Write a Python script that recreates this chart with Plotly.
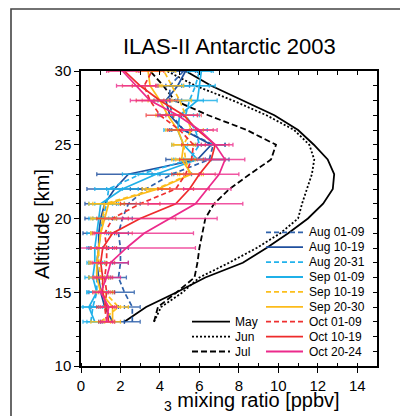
import plotly.graph_objects as go

# ---------------- data ----------------
altitude = list(range(13, 31))  # km

clim_names = ["May", "Jun", "Jul"]
may = [2.2, 3.3, 4.85, 6.3, 8.2, 9.4, 10.5, 11.5, 12.27, 12.76, 12.83, 12.5, 11.8, 11.0, 9.8, 8.2, 6.6, 5.3]
jun = [3.7, 4.06, 5.15, 6.0, 7.5, 8.9, 10.1, 11.0, 11.2, 11.45, 11.7, 11.82, 11.57, 10.8, 9.4, 7.7, 5.8, 4.35]
jul = [3.7, 3.9, 4.85, 5.75, 5.9, 6.0, 6.15, 6.3, 6.74, 7.52, 8.55, 9.63, 9.88, 8.4, 6.45, 4.75, 4.17, 3.5]

period_names = ["Aug 01-09", "Aug 10-19", "Aug 20-31", "Sep 01-09", "Sep 10-19",
                "Sep 20-30", "Oct 01-09", "Oct 10-19", "Oct 20-24"]
aug_01_09 = [2.6, 2.6, 2.2, 1.9, 2.0, 2.0, 1.9, 2.1, 2.4, 3.3, 4.6, 6.5, 6.7, 5.2, 4.6, 4.5, 4.5, 5.2]
aug_10_19 = [1.6, 1.2, 1.0, 0.9, 0.8, 0.9, 0.9, 1.0, 1.2, 1.7, 2.4, 5.9, 6.6, 5.2, 4.5, 4.3, 4.9, 5.3]
aug_20_31 = [0.5, 0.6, 0.8, 0.8, 0.8, 0.9, 1.0, 1.1, 1.3, 1.4, 3.0, 5.5, 6.0, 5.8, 5.3, 5.5, 5.8, 6.0]
sep_01_09 = [0.7, 0.4, 0.8, 0.6, 0.7, 0.7, 0.8, 0.9, 1.0, 2.1, 3.8, 5.9, 5.2, 4.9, 5.0, 5.9, 6.0, 6.1]
sep_10_19 = [1.0, 1.9, 1.2, 1.0, 0.9, 0.9, 1.0, 1.1, 1.2, 3.8, 5.5, 5.3, 5.2, 5.6, 5.3, 5.0, 4.6, 4.2]
sep_20_30 = [1.6, 1.6, 1.0, 0.8, 0.8, 0.9, 1.0, 1.2, 1.4, 3.9, 5.6, 5.1, 5.2, 4.9, 4.4, 4.0, 3.5, 3.4]
oct_01_09 = [1.3, 1.2, 1.3, 1.2, 1.3, 1.3, 1.2, 1.6, 3.0, 4.8, 5.3, 5.6, 5.7, 5.0, 4.0, 3.5, 3.2, 3.6]
oct_10_19 = [1.4, 1.3, 1.1, 1.1, 1.0, 1.1, 1.6, 3.0, 4.8, 5.5, 6.0, 6.6, 6.8, 5.9, 5.2, 4.0, 3.0, 2.2]
oct_20_24 = [1.3, 1.4, 1.0, 1.3, 1.5, 2.3, 3.2, 4.5, 5.8, 6.4, 7.0, 7.3, 6.8, 6.0, 4.9, 3.5, 2.8, 2.1]

err_aug_01_09 = [0.4, 0.4, 0.5, 0.4, 0.4, 0.4, 0.5, 0.5, 0.6, 0.8, 1.0, 0.8, 0.6, 0.6, 0.6, 0.6, 0.6, 0.6]
err_aug_10_19 = [0.6, 0.7, 0.6, 0.5, 0.4, 0.5, 0.8, 0.8, 1.0, 1.4, 1.6, 1.6, 0.7, 0.7, 0.6, 0.6, 0.6, 0.6]
err_aug_20_31 = [0.4, 0.5, 0.5, 0.4, 0.4, 0.4, 0.5, 0.5, 0.6, 0.7, 0.9, 0.8, 0.6, 0.6, 0.7, 0.7, 0.7, 0.6]
err_sep_01_09 = [0.4, 0.5, 0.5, 0.4, 0.4, 0.4, 0.5, 0.5, 0.6, 0.8, 0.9, 0.7, 0.6, 0.7, 0.7, 1.0, 0.8, 0.6]
err_sep_10_19 = [0.5, 0.5, 0.4, 0.4, 0.4, 0.4, 0.5, 0.6, 0.8, 0.7, 0.6, 0.5, 0.6, 0.6, 0.6, 0.6, 0.6, 0.6]
err_sep_20_30 = [0.4, 0.4, 0.4, 0.4, 0.4, 0.4, 0.5, 0.6, 0.8, 0.6, 0.6, 0.5, 0.5, 0.6, 0.6, 0.6, 0.6, 0.6]
err_oct_01_09 = [0.4, 0.4, 0.4, 0.4, 0.4, 0.5, 0.6, 0.8, 1.0, 0.9, 0.7, 0.6, 0.6, 0.6, 0.7, 0.7, 0.6, 0.6]
err_oct_10_19 = [0.3, 0.4, 0.4, 0.4, 0.5, 0.6, 1.0, 1.8, 2.0, 1.0, 0.8, 0.7, 0.7, 0.8, 0.9, 0.9, 0.9, 0.8]
err_oct_20_24 = [0.3, 0.4, 0.4, 0.7, 0.9, 3.5, 2.5, 2.4, 2.4, 1.2, 1.0, 1.0, 0.9, 0.9, 1.0, 1.0, 1.0, 0.8]

x_ticks = [0, 2, 4, 6, 8, 10, 12, 14]
y_ticks = [10, 15, 20, 25, 30]

# ---------------- styles ----------------
clim_values = [may, jun, jul]
clim_dash = ["solid", "2px,2px", "6px,3px"]

period_values = [aug_01_09, aug_10_19, aug_20_31, sep_01_09, sep_10_19,
                 sep_20_30, oct_01_09, oct_10_19, oct_20_24]
period_errors = [err_aug_01_09, err_aug_10_19, err_aug_20_31, err_sep_01_09, err_sep_10_19,
                 err_sep_20_30, err_oct_01_09, err_oct_10_19, err_oct_20_24]
period_colors = ["#2f62ab", "#1f4f9e", "#22b2ec", "#1fb0e8", "#fcbf1c",
                 "#fcbb1a", "#ee3030", "#ee2b2b", "#ec2a8b"]
period_err_colors = ["rgba(47,98,171,0.85)", "rgba(31,79,158,0.85)", "rgba(34,178,236,0.85)",
                     "rgba(31,176,232,0.85)", "rgba(252,191,28,0.85)", "rgba(252,187,26,0.85)",
                     "rgba(238,48,48,0.75)", "rgba(240,90,100,0.75)", "rgba(236,42,139,0.8)"]
period_dash = ["5px,3px", "solid", "5px,3px", "solid", "5px,3px", "solid", "5px,3px", "solid", "solid"]

FONT = "Liberation Sans, Arial, Helvetica, sans-serif"

fig = go.Figure()

for name, vals, dash in zip(clim_names, clim_values, clim_dash):
    fig.add_trace(go.Scatter(x=vals, y=altitude, mode="lines", name=name,
                             line=dict(color="black", width=1.8, dash=dash),
                             showlegend=False))

for name, vals, err, col, ecol, dash in zip(period_names, period_values, period_errors,
                                           period_colors, period_err_colors, period_dash):
    fig.add_trace(go.Scatter(x=vals, y=altitude, mode="lines", name=name,
                             line=dict(color=col, width=1.7, dash=dash),
                             error_x=dict(type="data", array=err, color=ecol,
                                          thickness=1.3, width=2),
                             showlegend=False))

# helper trace for mirrored top/right axes
fig.add_trace(go.Scatter(x=may, y=altitude, xaxis="x2", yaxis="y2", mode="lines",
                         line=dict(width=0), opacity=0, hoverinfo="skip", showlegend=False))

# ---------------- layout ----------------
# page offset of the figure inside the browser window (default body margin)
OFF = 8
W, H = 400, 408
L, R, T, B = 73, 31, 63, 50
pw, ph = W - L - R, H - T - B


def px_x(px):
    """page x pixel -> paper x"""
    return (px - OFF - L) / pw


def px_y(py):
    """page y pixel -> paper y"""
    return (H - B - (py - OFF)) / ph


shapes = []
annotations = []

# manual legend (two columns)
rows = [232.3, 247.2, 262.1, 277.0, 291.9, 306.8, 321.7, 336.6, 351.5]
for name, col, dash, ry in zip(period_names, period_colors, period_dash, rows):
    shapes.append(dict(type="line", xref="paper", yref="paper",
                       x0=px_x(266), x1=px_x(303), y0=px_y(ry), y1=px_y(ry),
                       line=dict(color=col, width=1.8, dash=dash)))
    annotations.append(dict(text=name, xref="paper", yref="paper", x=px_x(306.5), y=px_y(ry),
                            xanchor="left", yanchor="middle", showarrow=False,
                            font=dict(family=FONT, size=12, color="black")))
for name, dash, ry in zip(clim_names, clim_dash, rows[6:]):
    shapes.append(dict(type="line", xref="paper", yref="paper",
                       x0=px_x(192), x1=px_x(230), y0=px_y(ry), y1=px_y(ry),
                       line=dict(color="black", width=1.8, dash=dash)))
    annotations.append(dict(text=name, xref="paper", yref="paper", x=px_x(233), y=px_y(ry),
                            xanchor="left", yanchor="middle", showarrow=False,
                            font=dict(family=FONT, size=12, color="black")))

# outer frame
shapes.append(dict(type="rect", xref="paper", yref="paper",
                   x0=px_x(11), x1=px_x(430), y0=px_y(440), y1=px_y(9),
                   line=dict(color="#444444", width=1.6), fillcolor="rgba(0,0,0,0)"))

# title and axis titles
annotations.append(dict(text="ILAS-II Antarctic 2003", xref="paper", yref="paper",
                        x=px_x(229), y=px_y(46), xanchor="center", yanchor="middle",
                        showarrow=False, font=dict(family=FONT, size=22, color="black")))
annotations.append(dict(text="<sub>3</sub> mixing ratio [ppbv]", xref="paper", yref="paper",
                        x=px_x(162), y=px_y(401), xanchor="left", yanchor="middle",
                        showarrow=False, font=dict(family=FONT, size=20, color="black")))
annotations.append(dict(text="Altitude [km]", xref="paper", yref="paper",
                        x=px_x(42), y=px_y(224), xanchor="center", yanchor="middle",
                        textangle=-90, showarrow=False,
                        font=dict(family=FONT, size=20, color="black")))

fig.update_layout(
    width=W, height=H,
    margin=dict(l=L, r=R, t=T, b=B),
    paper_bgcolor="white", plot_bgcolor="white",
    showlegend=False,
    shapes=shapes, annotations=annotations,
    xaxis=dict(range=[0, 15], tickvals=x_ticks, ticks="outside", ticklen=5, tickwidth=1.3,
               tickcolor="black", showline=True, linewidth=1.5, linecolor="black",
               showgrid=False, zeroline=False, tickangle=0,
               tickfont=dict(family=FONT, size=15, color="black"),
               minor=dict(dtick=1, tick0=0, ticks="inside", ticklen=3, tickcolor="black", tickwidth=1.2)),
    yaxis=dict(range=[10, 30], tickvals=y_ticks, ticks="outside", ticklen=5, tickwidth=1.3,
               tickcolor="black", showline=True, linewidth=1.5, linecolor="black",
               showgrid=False, zeroline=False,
               tickfont=dict(family=FONT, size=15, color="black"),
               minor=dict(dtick=1, tick0=0, ticks="outside", ticklen=3, tickcolor="black", tickwidth=1.2)),
    xaxis2=dict(range=[0, 15], overlaying="x", side="top", dtick=1, tick0=0, ticks="inside",
                ticklen=4, tickwidth=1.2, tickcolor="black", showline=True, linewidth=1.5,
                linecolor="black", showgrid=False, zeroline=False, showticklabels=False),
    yaxis2=dict(range=[10, 30], overlaying="y", side="right", dtick=1, tick0=0, ticks="inside",
                ticklen=4, tickwidth=1.2, tickcolor="black", showline=True, linewidth=1.5,
                linecolor="black", showgrid=False, zeroline=False, showticklabels=False),
)

fig.write_html("out.html")
